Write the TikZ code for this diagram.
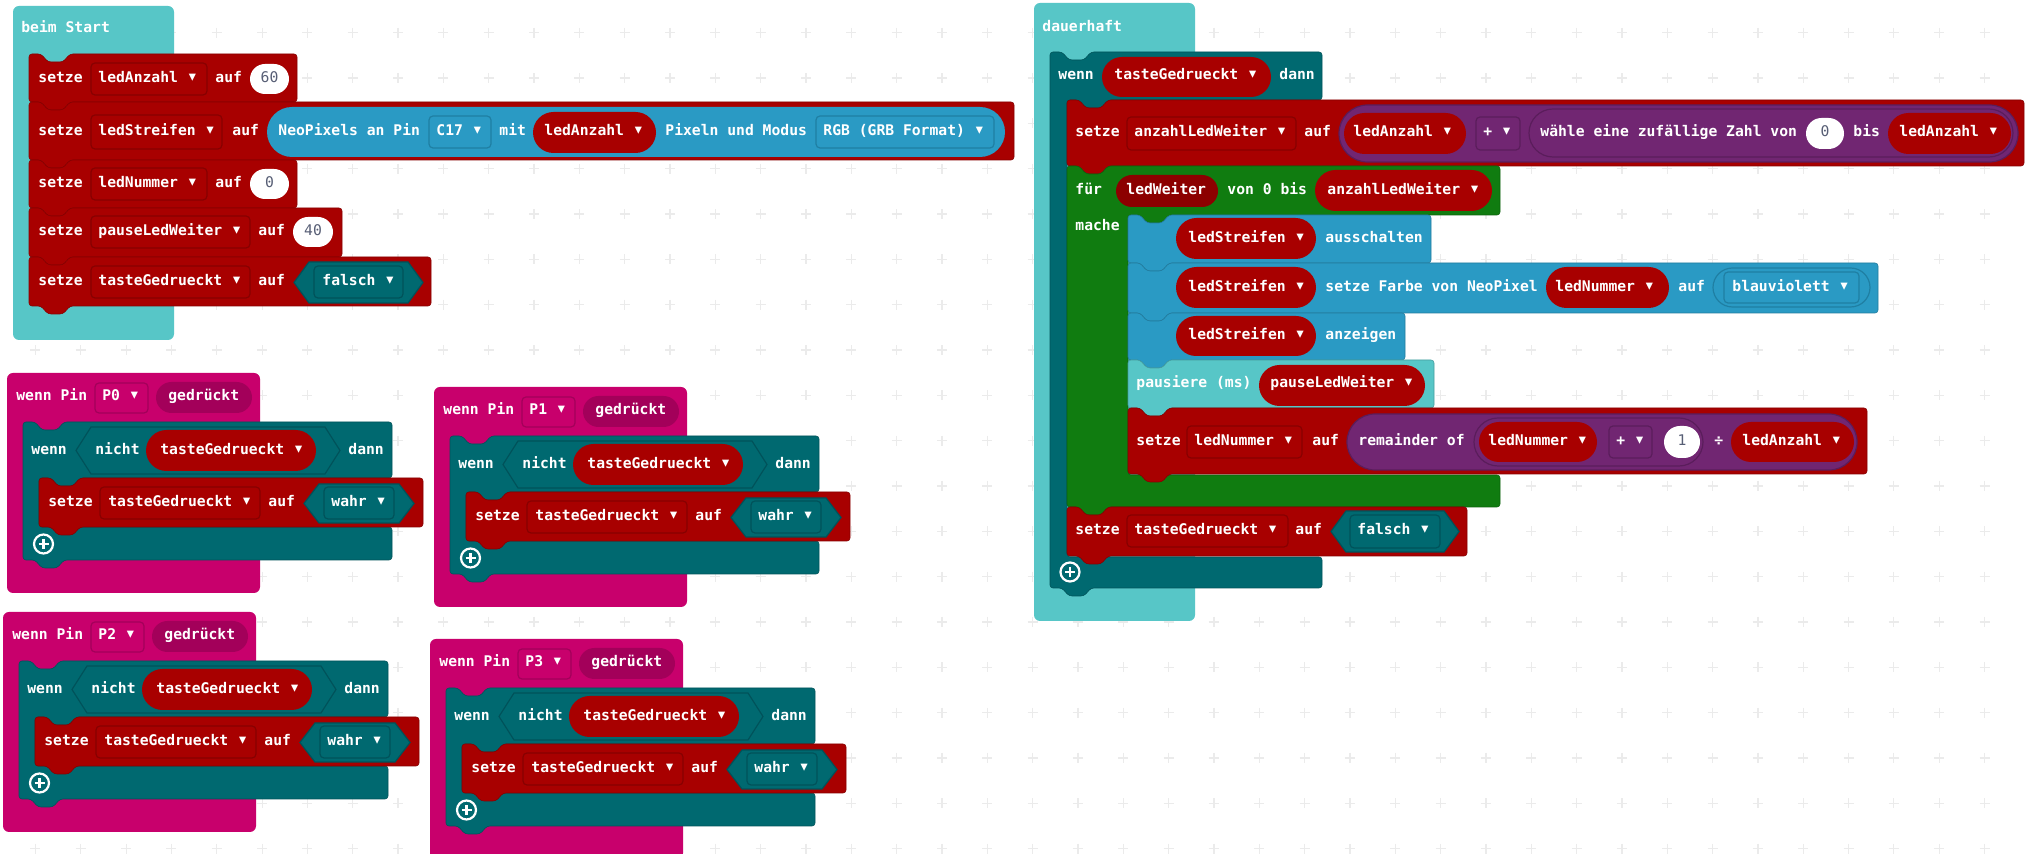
\documentclass[tikz,border=0pt]{standalone}
\usepackage{fontspec}
\newfontfamily\blkmono{DejaVu Sans Mono}
\newcommand\blockfont{\blkmono\bfseries\fontsize{7.35pt}{8pt}\selectfont}
\newcommand\numfont{\blkmono\fontsize{7.35pt}{8pt}\selectfont}
\newcommand\dd{{\fontsize{9.2pt}{8pt}\selectfont▾}}

\definecolor{basic}{HTML}{57C6C7}
\definecolor{varred}{HTML}{A80000}
\definecolor{varfld}{HTML}{870000}
\definecolor{vardk}{HTML}{8C0000}
\definecolor{logic}{HTML}{006970}
\definecolor{logicdk}{HTML}{00525A}
\definecolor{loops}{HTML}{107C10}
\definecolor{neo}{HTML}{2A9AC4}
\definecolor{neodk}{HTML}{1F7FA3}
\definecolor{mathp}{HTML}{712672}
\definecolor{mathdk}{HTML}{5A1D5B}
\definecolor{input}{HTML}{C8006C}
\definecolor{inputdk}{HTML}{A3005A}
\definecolor{numgray}{HTML}{575E75}
\definecolor{gridgray}{HTML}{EBEBEB}

\tikzset{
  btxt/.style={font=\blockfont, text=white, inner sep=0pt, anchor=base west},
  ntxt/.style={font=\numfont, text=numgray, inner sep=0pt, anchor=base},
  gridplus/.style={draw=gridgray, line width=0.55pt},
  plusring/.style={circle, draw=white, line width=1.1pt, minimum size=9.5pt, inner sep=0pt},
}

% text at left x / middle y
\newcommand\tx[4]{\node[btxt] (#1) at (#2,#3+4) {#4};}
\newcommand\nx[4]{\node[ntxt] (#1) at (#2,#3+4) {#4};}
% statement block: colour x y w h
\newcommand\stmt[5]{\filldraw[fill=#1, draw=#1!80!black, line width=0.3pt, rounded corners=1.5pt]
  (#2,#3) -- ++(12,0) -- ++(7,8) -- ++(15,0) -- ++(7,-8) -- (#2+#4,#3) -- (#2+#4,#3+#5)
  -- (#2+41,#3+#5) -- ++(-7,8) -- ++(-15,0) -- ++(-7,-8) -- (#2,#3+#5) -- cycle;}
% C block: colour x y w htop spine hinner hbottom
\newcommand\cblk[8]{\filldraw[fill=#1, draw=#1!80!black, line width=0.3pt, rounded corners=1.5pt]
  (#2,#3) -- ++(12,0) -- ++(7,8) -- ++(15,0) -- ++(7,-8) -- (#2+#4,#3) -- (#2+#4,#3+#5)
  -- (#2+#6+41,#3+#5) -- ++(-7,8) -- ++(-15,0) -- ++(-7,-8) -- (#2+#6,#3+#5)
  -- (#2+#6,#3+#5+#7) -- (#2+#4,#3+#5+#7) -- (#2+#4,#3+#5+#7+#8)
  -- (#2+41,#3+#5+#7+#8) -- ++(-7,8) -- ++(-15,0) -- ++(-7,-8) -- (#2,#3+#5+#7+#8) -- cycle;}
\newcommand\pill[6]{\fill[#1, rounded corners=#6pt] (#2,#3) rectangle (#4,#5);}
\newcommand\opill[7]{\filldraw[fill=#1, draw=#2, line width=0.6pt, rounded corners=#7pt] (#3,#4) rectangle (#5,#6);}
\newcommand\fld[6]{\filldraw[fill=#1, draw=#2, line width=0.6pt, rounded corners=2pt] (#3,#4) rectangle (#5,#6);}
\newcommand\hexa[6]{\filldraw[fill=#1, draw=#2, line width=0.6pt]
  (#3,{(#4+#6)/2}) -- (#3+15,#4) -- (#5-15,#4) -- (#5,{(#4+#6)/2}) -- (#5-15,#6) -- (#3+15,#6) -- cycle;}
\newcommand\plusicon[3]{\node[plusring] (#1) at (#2,#3) {};
  \draw[white, line width=1.2pt] (#1.center) +(-5,0) -- +(5,0) +(0,-5) -- +(0,5);}

\newcommand\pingroup[4]{%
\begin{scope}[shift={(#2,#3)}]
  \fill[input, rounded corners=3pt] (7,373) rectangle (260,593);
  \tx{#1t}{16}{397}{wenn Pin}
  \fld{input}{inputdk}{95}{383}{148}{413}
  \tx{#1p}{102}{397}{#4 \dd}
  \pill{inputdk}{156}{382}{252}{413}{7.75}
  \tx{#1g}{168}{397}{gedrückt}
  \cblk{logic}{23}{422}{369}{56}{16}{49}{33}
  \tx{#1w}{31}{451}{wenn}
  \hexa{logic}{logicdk}{76}{427}{340}{474}
  \tx{#1n}{95}{451}{nicht}
  \pill{varred}{146}{430}{316}{471}{10.25}
  \tx{#1v}{160}{451}{tasteGedrueckt \dd}
  \tx{#1d}{348}{451}{dann}
  \stmt{varred}{39}{478}{384}{49}
  \tx{#1s}{48}{503}{setze}
  \fld{varred}{varfld}{100}{487}{260}{519}
  \tx{#1f}{108}{503}{tasteGedrueckt \dd}
  \tx{#1a}{268}{503}{auf}
  \hexa{logic}{logicdk}{304}{484}{414}{523}
  \fld{logic}{logicdk}{324}{487}{394}{519}
  \tx{#1b}{331}{503}{wahr \dd}
  \plusicon{#1plus}{43.5}{544}
\end{scope}}

\begin{document}
\begin{tikzpicture}[x=0.5pt, y=-0.5pt]
  \useasboundingbox (0,0) rectangle (2026,854);
  \fill[white] (0,0) rectangle (2026,854);
  \foreach \i in {0,...,43} \foreach \j in {0,...,18}
    \draw[gridplus] ({35.4+45.33*\i},{32.7+45.33*\j}) +(-5,0) -- +(5,0) +(0,-5) -- +(0,5);

  % beim Start
  \fill[basic, rounded corners=3pt] (13,6) rectangle (174,340);
  \tx{bsT}{21}{29}{beim Start}
  \stmt{varred}{29}{54}{268}{48}
  \tx{b1s}{38}{79}{setze}
  \fld{varred}{varfld}{91}{63}{207}{95}
  \tx{b1v}{98}{79}{ledAnzahl \dd}
  \tx{b1a}{215}{79}{auf}
  \pill{white}{250}{64}{289}{94}{7.5}
  \nx{b1n}{269.5}{79}{60}
  \stmt{varred}{29}{102}{985}{58}
  \tx{b2s}{38}{132}{setze}
  \fld{varred}{varfld}{91}{115}{222}{149}
  \tx{b2v}{98}{132}{ledStreifen \dd}
  \tx{b2a}{232}{132}{auf}
  \pill{neo}{267}{107}{1005}{157}{12.5}
  \tx{b2t}{278}{132}{NeoPixels an Pin}
  \fld{neo}{neodk}{429}{116}{491}{148}
  \tx{b2p}{436}{132}{C17 \dd}
  \tx{b2m}{499}{132}{mit}
  \pill{varred}{533}{112}{656}{153}{10.25}
  \tx{b2c}{544}{132}{ledAnzahl \dd}
  \tx{b2u}{665}{132}{Pixeln und Modus}
  \fld{neo}{neodk}{816}{116}{994}{148}
  \tx{b2r}{823}{132}{RGB (GRB Format) \dd}
  \stmt{varred}{29}{160}{268}{48}
  \tx{b3s}{38}{184}{setze}
  \fld{varred}{varfld}{91}{168}{207}{200}
  \tx{b3v}{98}{184}{ledNummer \dd}
  \tx{b3a}{215}{184}{auf}
  \pill{white}{250}{169}{289}{199}{7.5}
  \nx{b3n}{269.5}{184}{0}
  \stmt{varred}{29}{208}{313}{49}
  \tx{b4s}{38}{232}{setze}
  \fld{varred}{varfld}{91}{216}{250}{248}
  \tx{b4v}{98}{232}{pauseLedWeiter \dd}
  \tx{b4a}{258}{232}{auf}
  \pill{white}{293}{217}{333}{247}{7.5}
  \nx{b4n}{313}{232}{40}
  \stmt{varred}{29}{257}{402}{49}
  \tx{b5s}{38}{282}{setze}
  \fld{varred}{varfld}{91}{266}{250}{298}
  \tx{b5v}{98}{282}{tasteGedrueckt \dd}
  \tx{b5a}{258}{282}{auf}
  \hexa{logic}{logicdk}{294}{262}{423}{303}
  \fld{logic}{logicdk}{314}{266}{403}{298}
  \tx{b5b}{322}{282}{falsch \dd}

  % dauerhaft
  \fill[basic, rounded corners=3pt] (1034,3) rectangle (1195,621);
  \tx{dhT}{1042}{28}{dauerhaft}
  \cblk{logic}{1050}{52}{272}{48}{17}{457}{31}
  \tx{d0w}{1058}{76}{wenn}
  \pill{varred}{1102}{57}{1271}{97}{10}
  \tx{d0v}{1114}{76}{tasteGedrueckt \dd}
  \tx{d0d}{1279}{76}{dann}
  \stmt{varred}{1067}{100}{957}{66}
  \tx{d1s}{1075}{133}{setze}
  \fld{varred}{varfld}{1127}{117}{1296}{150}
  \tx{d1v}{1134}{133}{anzahlLedWeiter \dd}
  \tx{d1a}{1304}{133}{auf}
  \opill{mathp}{mathdk}{1339}{105}{2018}{162}{14.25}
  \pill{varred}{1344}{113}{1466}{154}{10.25}
  \tx{d1l}{1353}{133}{ledAnzahl \dd}
  \fld{mathp}{mathdk}{1476}{117}{1520}{150}
  \tx{d1o}{1483}{133}{+ \dd}
  \opill{mathp}{mathdk}{1529}{109}{2013}{157}{12}
  \tx{d1r}{1540}{133}{wähle eine zufällige Zahl von}
  \pill{white}{1806}{118}{1844}{149}{7.75}
  \nx{d1n}{1825}{133}{0}
  \tx{d1b}{1853}{133}{bis}
  \pill{varred}{1888}{113}{2011}{154}{10.25}
  \tx{d1m}{1899}{133}{ledAnzahl \dd}
  \cblk{loops}{1067}{166}{433}{49}{61}{260}{32}
  \tx{d2f}{1075}{191}{für}
  \pill{vardk}{1116}{175}{1218}{207}{8}
  \tx{d2v}{1126}{191}{ledWeiter}
  \tx{d2t}{1227}{191}{von 0 bis}
  \pill{varred}{1315}{170}{1492}{211}{10.25}
  \tx{d2e}{1327}{191}{anzahlLedWeiter \dd}
  \tx{d2m}{1075}{227}{mache}
  \stmt{neo}{1128}{215}{303}{48}
  \pill{varred}{1176}{218}{1316}{259}{10.25}
  \tx{d3v}{1188}{239}{ledStreifen \dd}
  \tx{d3t}{1325}{239}{ausschalten}
  \stmt{neo}{1128}{263}{750}{50}
  \pill{varred}{1176}{267}{1316}{308}{10.25}
  \tx{d4v}{1188}{288}{ledStreifen \dd}
  \tx{d4t}{1325}{288}{setze Farbe von NeoPixel}
  \pill{varred}{1546}{267}{1669}{308}{10.25}
  \tx{d4n}{1555}{288}{ledNummer \dd}
  \tx{d4a}{1678}{288}{auf}
  \opill{neo}{neodk}{1713}{268}{1870}{307}{9.75}
  \fld{neo}{neodk}{1724}{272}{1859}{303}
  \tx{d4c}{1732}{288}{blauviolett \dd}
  \stmt{neo}{1128}{313}{277}{47}
  \pill{varred}{1176}{316}{1316}{356}{10}
  \tx{d5v}{1188}{336}{ledStreifen \dd}
  \tx{d5t}{1325}{336}{anzeigen}
  \stmt{basic}{1128}{360}{306}{48}
  \tx{d6t}{1136}{384}{pausiere (ms)}
  \pill{varred}{1259}{365}{1425}{406}{10.25}
  \tx{d6v}{1270}{384}{pauseLedWeiter \dd}
  \stmt{varred}{1128}{408}{739}{66}
  \tx{d7s}{1136}{442}{setze}
  \fld{varred}{varfld}{1187}{426}{1302}{458}
  \tx{d7v}{1194}{442}{ledNummer \dd}
  \tx{d7a}{1312}{442}{auf}
  \opill{mathp}{mathdk}{1347}{414}{1857}{470}{14}
  \tx{d7r}{1358}{442}{remainder of}
  \opill{mathp}{mathdk}{1474}{418}{1703}{466}{12}
  \pill{varred}{1479}{422}{1597}{462}{10}
  \tx{d7l}{1488}{442}{ledNummer \dd}
  \fld{mathp}{mathdk}{1609}{426}{1652}{458}
  \tx{d7o}{1616}{442}{+ \dd}
  \pill{white}{1664}{426}{1700}{458}{8}
  \nx{d7n}{1682}{442}{1}
  \tx{d7d}{1714}{442}{÷}
  \pill{varred}{1731}{422}{1854}{462}{10}
  \tx{d7m}{1742}{442}{ledAnzahl \dd}
  \stmt{varred}{1067}{507}{400}{49}
  \tx{d8s}{1075}{531}{setze}
  \fld{varred}{varfld}{1127}{515}{1288}{547}
  \tx{d8v}{1134}{531}{tasteGedrueckt \dd}
  \tx{d8a}{1295}{531}{auf}
  \hexa{logic}{logicdk}{1331}{511}{1459}{552}
  \fld{logic}{logicdk}{1350}{515}{1440}{548}
  \tx{d8b}{1357}{531}{falsch \dd}
  \plusicon{d9p}{1070}{572}

  % wenn Pin ... gedrückt
  \pingroup{p0}{0}{0}{P0}
  \pingroup{p1}{427}{14}{P1}
  \pingroup{p2}{-4}{239}{P2}
  \pingroup{p3}{423}{266}{P3}
\end{tikzpicture}
\end{document}
